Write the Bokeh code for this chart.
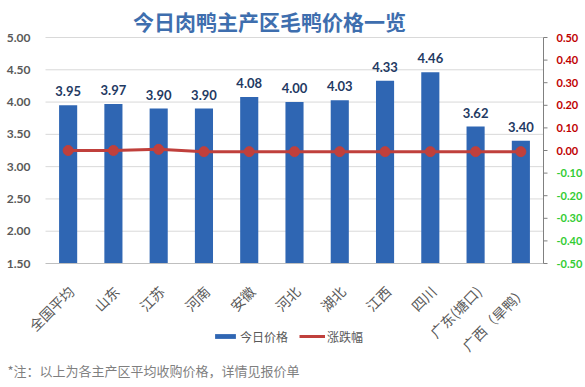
import math
from bokeh.plotting import figure
from bokeh.models import Range1d, ColumnDataSource, Label, Legend, LegendItem
from bokeh.core.properties import value
from bokeh.embed import file_html
from bokeh.resources import INLINE

# ---- data ----
categories = ["全国平均", "山东", "江苏", "河南", "安徽", "河北", "湖北",
              "江西", "四川", "广东(塘口)", "广西（旱鸭）"]
prices = [3.95, 3.97, 3.90, 3.90, 4.08, 4.00, 4.03, 4.33, 4.46, 3.62, 3.40]
changes = [0.00, 0.00, 0.005, -0.005, -0.005, -0.005, -0.005, -0.005, -0.005, -0.005, -0.005]
left_ticks = [1.5, 2.0, 2.5, 3.0, 3.5, 4.0, 4.5, 5.0]
right_ticks = [-0.5, -0.4, -0.3, -0.2, -0.1, 0.0, 0.1, 0.2, 0.3, 0.4, 0.5]
title_text = "今日肉鸭主产区毛鸭价格一览"
note_text = "*注：以上为各主产区平均收购价格，详情见报价单"
series_names = ["今日价格", "涨跌幅"]

CJK = "Noto Sans CJK SC"
NUM = "Lato"

# ---- layout (pixels) ----
W, H = 585, 387
PL, PR, PT, PB = 45, 543, 37, 263   # plot area edges

n = len(categories)
ux = (PR - PL) / n
lo, hi = left_ticks[0], left_ticks[-1]
uy = (PB - PT) / (hi - lo)
clo, chi = right_ticks[0], right_ticks[-1]
uc = (PB - PT) / (chi - clo)

p = figure(width=W, height=H,
           x_range=Range1d(-PL / ux, (W - PL) / ux),
           y_range=Range1d(lo - (H - PB) / uy, hi + PT / uy),
           x_axis_location=None, y_axis_location=None,
           output_backend="svg", toolbar_location=None, tools="", min_border=0)
p.outline_line_color = None
p.grid.visible = False
p.background_fill_color = "white"
p.border_fill_color = "white"
p.extra_y_ranges = {"chg": Range1d(clo - (H - PB) / uc, chi + PT / uc)}

pos = [i + 0.5 for i in range(n)]
src = ColumnDataSource(dict(x=pos, cat=categories, price=prices, chg=changes,
                            lbl=["%.2f" % v for v in prices]))

# gridlines (within plot area only)
p.segment(x0=0, x1=n, y0=left_ticks[1:], y1=left_ticks[1:], line_color="#D9D9D9", line_width=1)

bars = p.vbar(x="x", top="price", bottom=lo, width=0.4, source=src,
              fill_color="#2F66B3", line_color=None)

# bottom axis line
p.segment(x0=0, x1=n, y0=lo, y1=lo, line_color="#BFBFBF", line_width=1)

# value labels
p.text(x="x", y="price", text="lbl", source=src, y_offset=-9,
       text_align="center", text_baseline="bottom",
       text_font=value(NUM), text_font_style="bold", text_font_size="13px",
       text_color="#1F3A63")

# change line
line = p.line(x="x", y="chg", source=src, y_range_name="chg",
              line_color="#C0403C", line_width=3)
p.scatter(x="x", y="chg", source=src, y_range_name="chg", marker="circle",
          size=10, fill_color="#C0403C", line_color="#C0403C")
leg_marker = p.scatter(x=[], y=[], y_range_name="chg", marker="square", size=7,
                       fill_color="#C0403C", line_color="#C0403C")

# left axis labels
p.text(x=0, y=left_ticks, text=["%.2f" % v for v in left_ticks], x_offset=-15,
       text_align="right", text_baseline="middle",
       text_font=value(NUM), text_font_style="bold", text_font_size="12px",
       text_color="#595959")

# category labels
p.text(x=pos, y=lo, text=categories, angle=math.pi / 4, x_offset=3, y_offset=25,
       text_align="right", text_baseline="middle",
       text_font=value(CJK), text_font_size="14px", text_color="#595959")

# right axis
p.segment(x0=n, x1=n, y0=clo, y1=chi, y_range_name="chg", line_color="#808080", line_width=1)
p.ray(x=n, y=right_ticks, length=4, length_units="screen", angle=0,
      y_range_name="chg", line_color="#808080", line_width=1)
p.text(x=n, y=right_ticks, text=["%.2f" % v for v in right_ticks], x_offset=13,
       y_range_name="chg", text_align="left", text_baseline="middle",
       text_color=["#C00000" if v >= 0 else "#33CC33" for v in right_ticks],
       text_font=value(NUM), text_font_style="bold", text_font_size="11px")

# title & note
p.add_layout(Label(x=269, y=H - 20, x_units="screen", y_units="screen",
                   text=title_text, text_align="center", text_baseline="middle",
                   text_font=CJK, text_font_style="bold", text_font_size="21px",
                   text_color="#3E6EAE"))
p.add_layout(Label(x=7, y=H - 370, x_units="screen", y_units="screen",
                   text=note_text, text_align="left", text_baseline="middle",
                   text_font=CJK, text_font_size="13px", text_color="#7F7F7F"))

legend = Legend(items=[LegendItem(label=series_names[0], renderers=[bars]),
                       LegendItem(label=series_names[1], renderers=[line, leg_marker])],
                location=(212, H - 346), orientation="horizontal",
                glyph_width=26, glyph_height=6, label_standoff=2, spacing=11,
                label_height=20, padding=0, margin=0, border_line_color=None,
                background_fill_alpha=0,
                label_text_font=CJK, label_text_font_size="12px",
                label_text_color="#595959", label_text_baseline="middle")
p.add_layout(legend, "center")

open("out.html", "w").write(file_html(p, INLINE))
